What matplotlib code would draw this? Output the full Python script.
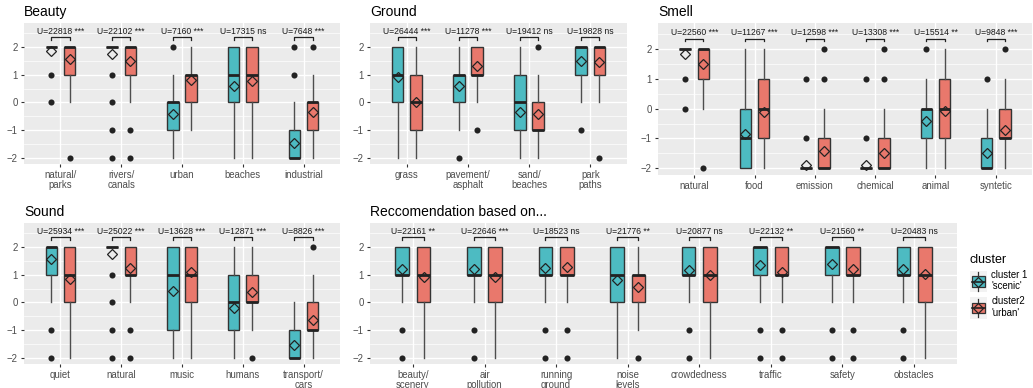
import matplotlib
matplotlib.use("Agg")
import matplotlib.pyplot as plt
from matplotlib.patches import Patch, Rectangle
from matplotlib.lines import Line2D
from matplotlib.legend_handler import HandlerBase

plt.rcParams['font.family'] = ['Liberation Sans', 'DejaVu Sans']

# ---- data: (whisker low, q1, median, q3, whisker high) per category ----
beauty_labels = ["natural/\nparks", "rivers/\ncanals", "urban", "beaches", "industrial"]
beauty_u = ["U=22818 ***", "U=22102 ***", "U=7160 ***", "U=17315 ns", "U=7648 ***"]
beauty_c1_box = [(2, 2, 2, 2, 2), (2, 2, 2, 2, 2), (-2, -1, 0, 0, 1), (-2, 0, 1, 2, 2), (-2, -2, -2, -1, 0)]
beauty_c1_mean = [1.85, 1.75, -0.42, 0.6, -1.45]
beauty_c1_out = [[1, 0], [1, 0, -1, -2], [2], [], [1, 2]]
beauty_c2_box = [(0, 1, 2, 2, 2), (0, 1, 2, 2, 2), (-1, 0, 1, 1, 2), (-2, 0, 1, 2, 2), (-2, -1, 0, 0, 1)]
beauty_c2_mean = [1.58, 1.5, 0.82, 0.77, -0.33]
beauty_c2_out = [[-2], [-1, -2], [], [], [2]]

ground_labels = ["grass", "pavement/\nasphalt", "sand/\nbeaches", "park\npaths"]
ground_u = ["U=26444 ***", "U=11278 ***", "U=19412 ns", "U=19828 ns"]
ground_c1_box = [(-2, 0, 1, 2, 2), (-1, 0, 1, 1, 2), (-2, -1, 0, 1, 2), (0, 1, 2, 2, 2)]
ground_c1_mean = [0.92, 0.6, -0.33, 1.5]
ground_c1_out = [[], [-2], [], [-1]]
ground_c2_box = [(-2, -1, 0, 1, 2), (0, 1, 1, 2, 2), (-2, -1, -1, 0, 1), (0, 1, 2, 2, 2)]
ground_c2_mean = [0.0, 1.32, -0.42, 1.45]
ground_c2_out = [[], [-1], [2], [-2]]

smell_labels = ["natural", "food", "emission", "chemical", "animal", "syntetic"]
smell_u = ["U=22560 ***", "U=11267 ***", "U=12598 ***", "U=13308 ***", "U=15514 **", "U=9848 ***"]
smell_c1_box = [(2, 2, 2, 2, 2), (-2, -2, -1, 0, 2), (-2, -2, -2, -2, -2), (-2, -2, -2, -2, -2),
                (-2, -1, 0, 0, 1), (-2, -2, -2, -1, 0)]
smell_c1_mean = [1.83, -0.85, -1.88, -1.9, -0.4, -1.5]
smell_c1_out = [[1, 0], [], [1, -1], [1, -1], [2], [1]]
smell_c2_box = [(0, 1, 2, 2, 2), (-2, -1, 0, 1, 2), (-2, -2, -2, -1, 0), (-2, -2, -2, -1, 0),
                (-2, -1, 0, 1, 2), (-2, -1, -1, 0, 1)]
smell_c2_mean = [1.48, -0.1, -1.42, -1.5, -0.07, -0.72]
smell_c2_out = [[-2], [], [1, 2], [1, 2], [], [2]]

sound_labels = ["quiet", "natural", "music", "humans", "transport/\ncars"]
sound_u = ["U=25934 ***", "U=25022 ***", "U=13628 ***", "U=12871 ***", "U=8826 ***"]
sound_c1_box = [(0, 1, 2, 2, 2), (2, 2, 2, 2, 2), (-2, -1, 1, 2, 2), (-2, -1, 0, 1, 2), (-2, -2, -2, -1, 0)]
sound_c1_mean = [1.57, 1.73, 0.4, -0.2, -1.53]
sound_c1_out = [[-1, -2], [1, 0, -1, -2], [], [], []]
sound_c2_box = [(-2, 0, 1, 2, 2), (0, 1, 1, 2, 2), (-2, 0, 1, 2, 2), (-1, 0, 0, 1, 2), (-2, -1, -1, 0, 1)]
sound_c2_mean = [0.85, 1.23, 1.08, 0.37, -0.63]
sound_c2_out = [[], [-1, -2], [], [-2], [2]]

rec_labels = ["beauty/\nscenery", "air\npollution", "running\nground", "noise\nlevels",
              "crowdedness", "traffic", "safety", "obstacles"]
rec_u = ["U=22161 **", "U=22646 ***", "U=18523 ns", "U=21776 **",
         "U=20877 ns", "U=22132 **", "U=21560 **", "U=20483 ns"]
rec_c1_box = [(0, 1, 1, 2, 2), (0, 1, 1, 2, 2), (0, 1, 1, 2, 2), (-2, 0, 1, 2, 2),
              (0, 1, 1, 2, 2), (0, 1, 2, 2, 2), (0, 1, 2, 2, 2), (0, 1, 1, 2, 2)]
rec_c1_mean = [1.2, 1.22, 1.23, 0.82, 1.17, 1.35, 1.4, 1.2]
rec_c1_out = [[-1, -2], [-1, -2], [-1, -2], [], [-1, -2], [-1, -2], [-1, -2], [-1, -2]]
rec_c2_box = [(-2, 0, 1, 2, 2), (-2, 0, 1, 2, 2), (0, 1, 1, 2, 2), (-1, 0, 1, 1, 2),
              (-2, 0, 1, 2, 2), (0, 1, 1, 2, 2), (0, 1, 1, 2, 2), (-2, 0, 1, 2, 2)]
rec_c2_mean = [0.93, 0.93, 1.27, 0.57, 1.0, 1.1, 1.2, 1.02]
rec_c2_out = [[], [], [-1, -2], [-2], [], [-1, -2], [-1, -2], []]

cluster_names = ["cluster 1\n'scenic'", "cluster2\n'urban'"]
colors = ["#4DBBC2", "#E9786C"]

W, H = 1033, 388
fig = plt.figure(figsize=(W / 100, H / 100), dpi=100)

DODGE = 0.15
BOXW = 0.19


def make_stats(boxes, means, outs):
    stats = []
    for (lo, q1, med, q3, hi), m, o in zip(boxes, means, outs):
        stats.append(dict(whislo=lo, q1=q1, med=med, q3=q3, whishi=hi, mean=m, fliers=o))
    return stats


def panel(rect, title, labels, ulabels, c1, c2):
    l, t, r, b = rect
    ax = fig.add_axes([l / W, 1 - b / H, (r - l) / W, (b - t) / H])
    ax.set_facecolor("#EBEBEB")
    n = len(labels)
    xs = list(range(1, n + 1))
    for data, col, off in [(c1, colors[0], -DODGE), (c2, colors[1], DODGE)]:
        ax.bxp(make_stats(*data), positions=[x + off for x in xs], widths=BOXW,
               patch_artist=True, showmeans=True, showcaps=False, manage_ticks=False,
               boxprops=dict(facecolor=col, edgecolor="#333333", linewidth=1.0),
               whiskerprops=dict(color="#4D4D4D", linewidth=1.0),
               medianprops=dict(color="#222222", linewidth=2.0),
               meanprops=dict(marker="D", markerfacecolor="none", markeredgecolor="#222222",
                              markersize=4.6, markeredgewidth=0.9),
               flierprops=dict(marker="o", markerfacecolor="#222222", markeredgecolor="none",
                               markersize=4.4), zorder=3)
    for x, u in zip(xs, ulabels):
        ax.plot([x - DODGE, x - DODGE, x + DODGE, x + DODGE], [2.26, 2.34, 2.34, 2.26],
                color="#222222", lw=0.9, zorder=3)
        ax.text(x, 2.55, u, ha="center", va="center", fontsize=6.2, color="#1A1A1A")
    ax.set_xlim(0.4, n + 0.6)
    ax.set_ylim(-2.22, 2.86)
    ax.set_xticks(xs)
    ax.set_xticklabels(labels, linespacing=1.0)
    ax.set_yticks([-2, -1, 0, 1, 2])
    ax.set_yticks([-1.5, -0.5, 0.5, 1.5, 2.5], minor=True)
    ax.grid(which="major", color="white", lw=1.0)
    ax.grid(which="minor", color="white", lw=0.5)
    ax.set_axisbelow(True)
    ax.tick_params(which="major", length=2.5, width=0.8, color="#333333",
                   labelsize=6.9, labelcolor="#4D4D4D", pad=2.0)
    ax.tick_params(which="minor", length=0)
    for s in ax.spines.values():
        s.set_visible(False)
    ax.set_title(title, loc="left", fontsize=10, pad=5, color="#000000")
    return ax


panel((24, 23, 340, 164), "Beauty", beauty_labels, beauty_u,
      (beauty_c1_box, beauty_c1_mean, beauty_c1_out), (beauty_c2_box, beauty_c2_mean, beauty_c2_out))
panel((370, 23, 627, 164), "Ground", ground_labels, ground_u,
      (ground_c1_box, ground_c1_mean, ground_c1_out), (ground_c2_box, ground_c2_mean, ground_c2_out))
panel((658, 23, 1032, 175), "Smell", smell_labels, smell_u,
      (smell_c1_box, smell_c1_mean, smell_c1_out), (smell_c2_box, smell_c2_mean, smell_c2_out))
panel((24, 223, 340, 364), "Sound", sound_labels, sound_u,
      (sound_c1_box, sound_c1_mean, sound_c1_out), (sound_c2_box, sound_c2_mean, sound_c2_out))
panel((370, 223, 957, 364), "Reccomendation based on...", rec_labels, rec_u,
      (rec_c1_box, rec_c1_mean, rec_c1_out), (rec_c2_box, rec_c2_mean, rec_c2_out))


class BoxKey(HandlerBase):
    def create_artists(self, legend, orig_handle, xdescent, ydescent, width, height, fontsize, trans):
        x0, y0 = -xdescent, -ydescent
        col = orig_handle.get_facecolor()
        bg = Rectangle((x0, y0), width, height, facecolor="#F2F2F2", edgecolor="none", transform=trans)
        cx, cy = x0 + width / 2, y0 + height / 2
        whisk = Line2D([cx, cx], [y0 + 0.05 * height, y0 + 0.95 * height], color="#333333", lw=0.9,
                       transform=trans)
        box = Rectangle((x0 + 0.1 * width, y0 + 0.25 * height), 0.8 * width, 0.5 * height,
                        facecolor=col, edgecolor="#333333", lw=0.9, transform=trans)
        med = Line2D([x0 + 0.1 * width, x0 + 0.9 * width], [cy, cy], color="#222222", lw=1.2,
                     transform=trans)
        dia = Line2D([cx], [cy], marker="D", markersize=4.6, markerfacecolor="none",
                     markeredgecolor="#222222", markeredgewidth=0.9, transform=trans)
        return [bg, whisk, box, med, dia]


handles = [Patch(facecolor=c) for c in colors]
leg = fig.legend(handles, cluster_names, loc="upper left", bbox_to_anchor=(966 / W, 1 - 250 / H),
                 frameon=False, fontsize=6.9, title="cluster", title_fontsize=9,
                 handler_map={Patch: BoxKey()}, handlelength=1.75, handleheight=3.0,
                 handletextpad=0.5, labelspacing=0.4, borderaxespad=0)
leg._legend_box.align = "left"

fig.savefig("out.png", dpi=100)
